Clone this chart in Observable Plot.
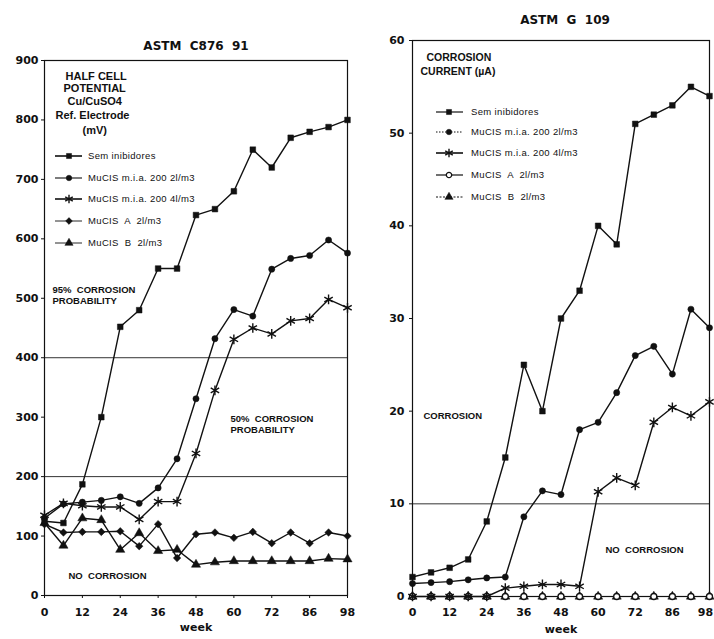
<!DOCTYPE html>
<html><head><meta charset="utf-8">
<script src="https://cdn.jsdelivr.net/npm/d3@7"></script>
<script src="https://cdn.jsdelivr.net/npm/@observablehq/plot@0.6"></script>
<style>
body{margin:0;background:#fff}
#wrap{position:relative;width:714px;height:639px;overflow:hidden;background:#fff}
#wrap svg{position:absolute;top:0}
</style></head><body><div id="wrap"></div>
<script>
// ---- data ----
const weekLabels = ["0","12","24","36","48","60","72","86","98"];
const seriesNames = ["Sem inibidores","MuCIS m.i.a. 200 2l/m3","MuCIS m.i.a. 200 4l/m3","MuCIS  A  2l/m3","MuCIS  B  2l/m3"];
const rightNames = ["Sem inibidores","MuCIS m.i.a. 200 2l/m3","MuCIS m.i.a. 200 4l/m3","MuCIS  A  2l/m3","MuCIS  B  2l/m3"];

// Half cell potential (mV), ASTM C876 91
const hcSem  = [125,122,187,300,452,480,550,550,640,650,680,750,720,770,780,788,800];
const hcMia2 = [130,154,157,160,166,155,181,230,331,432,481,470,549,567,572,598,576];
const hcMia4 = [135,155,151,149,149,128,158,158,239,345,431,450,440,462,466,498,484];
const hcA    = [120,106,107,107,108,83,120,63,103,106,97,107,88,106,88,106,100];
const hcB    = [122,84,130,127,77,105,75,77,52,56,58,58,58,58,58,62,61];
const hcThresholds = [200, 400];
const hcTicks = [0,100,200,300,400,500,600,700,800,900];

// Corrosion current (µA), ASTM G 109
const ccSem  = [2.1,2.6,3.1,4.0,8.1,15,25,20,30,33,40,38,51,52,53,55,54];
const ccMia2 = [1.4,1.5,1.6,1.8,2.0,2.1,8.6,11.4,11,18,18.8,22,26,27,24,31,29];
const ccMia4 = [0,0,0,0,0,0.9,1.1,1.3,1.3,1.1,11.3,12.8,12,18.8,20.4,19.5,21];
const ccA    = [0,0,0,0,0,0,0,0,0,0,0,0,0,0,0,0,0];
const ccB    = [0,0,0,0,0,0,0,0,0,0,0,0,0,0,0,0,0];
const ccThresholds = [10];
const ccTicks = [0,10,20,30,40,50,60];

// ---- helpers ----
const INK = "#111";
const rows = vals => vals.map((v, i) => ({i, v}));
const xTickPos = weekLabels.map((_, k) => 2 * k);
const nSteps = hcSem.length - 1;

const styles = {
  square:   {symbol: "square", r: 3.2, fill: INK, stroke: INK, strokeWidth: 0.5},
  circle:   {symbol: "circle", r: 3.1, fill: INK, stroke: INK, strokeWidth: 0.5},
  asterisk: {symbol: "asterisk", r: 4.6, fill: "none", stroke: INK, strokeWidth: 1.4},
  diamond:  {symbol: "diamond2", r: 3.4, fill: INK, stroke: INK, strokeWidth: 0.5},
  triangle: {symbol: "triangle", r: 3.4, fill: INK, stroke: INK, strokeWidth: 0.5},
  open:     {symbol: "circle", r: 3.0, fill: "#fff", stroke: INK, strokeWidth: 1.3}
};
const d3sym = {square: d3.symbolSquare, circle: d3.symbolCircle, asterisk: d3.symbolAsterisk,
  diamond: d3.symbolDiamond2, triangle: d3.symbolTriangle, open: d3.symbolCircle};

function seriesMarks(list) {
  return list.flatMap(s => [
    Plot.line(rows(s.values), {x: "i", y: "v", stroke: INK, strokeWidth: s.lw || 1.4}),
    Plot.dot(rows(s.values), {x: "i", y: "v", ...styles[s.style]})
  ]);
}
function note(text, dx, dy, o = {}) {
  return Plot.text([text], {text: d => d, frameAnchor: o.anchor || "top-left", dx, dy,
    textAnchor: o.textAnchor || "start", fontSize: o.fontSize || 9.5,
    fontFamily: o.fontFamily || "Liberation Sans", fontWeight: "bold", fill: INK,
    letterSpacing: o.ls});
}
function drawLegend(svg, cfg) {
  const g = d3.select(svg).append("g").attr("text-anchor", "start");
  cfg.items.forEach((it, k) => {
    const y = cfg.rowsY[k];
    g.append("line").attr("x1", cfg.x0).attr("x2", cfg.x1).attr("y1", y).attr("y2", y)
      .attr("stroke", INK).attr("stroke-width", it.lw || 1.3)
      .attr("stroke-dasharray", it.dash || null);
    const st = styles[it.style];
    g.append("path").attr("d", d3.symbol(d3sym[it.style], Math.PI * st.r * st.r * 0.8)())
      .attr("transform", `translate(${cfg.mx},${y})`)
      .attr("fill", st.fill).attr("stroke", st.stroke).attr("stroke-width", st.strokeWidth);
    g.append("text").attr("x", cfg.tx).attr("y", y).attr("dy", "0.32em")
      .attr("text-anchor", "start")
      .attr("font-family", "Liberation Sans").attr("font-size", 9.5).attr("font-weight", "normal")
      .attr("letter-spacing", 0.35).attr("fill", INK).style("white-space", "pre").text(it.name);
  });
}
const baseStyle = {fontFamily: "DejaVu Sans", fontSize: "11px", fontWeight: "bold", color: INK, background: "transparent", overflow: "visible"};

// ---- left chart ----
const left = Plot.plot({
  width: 357, height: 639,
  marginLeft: 44, marginRight: 10, marginTop: 60, marginBottom: 44,
  style: baseStyle,
  x: {domain: [0, nSteps]},
  y: {domain: [0, 900]},
  marks: [
    Plot.ruleY(hcThresholds, {stroke: "#333", strokeWidth: 1}),
    Plot.frame({stroke: INK, strokeWidth: 1.2}),
    Plot.axisY(hcTicks, {tickSize: 3, tickPadding: 3, label: null}),
    Plot.axisX(xTickPos, {tickSize: 3, tickPadding: 10, label: null, tickFormat: d => weekLabels[d / 2]}),
    ...seriesMarks([
      {values: hcA, style: "diamond"},
      {values: hcB, style: "triangle"},
      {values: hcMia4, style: "asterisk"},
      {values: hcMia2, style: "circle"},
      {values: hcSem, style: "square"}
    ]),
    note("ASTM\u00a0 C876\u00a0 91", 0, -19, {anchor: "top", textAnchor: "middle", fontSize: 12, fontFamily: "DejaVu Sans"}),
    note("week", 0, 35, {anchor: "bottom", textAnchor: "middle", fontSize: 11, fontFamily: "DejaVu Sans"}),
    note("HALF CELL", 21, 12, {fontSize: 11, ls: -0.4}),
    note("POTENTIAL", 19, 24, {fontSize: 11, ls: -0.4}),
    note("Cu/CuSO4", 23, 37, {fontSize: 11, ls: -0.4}),
    note("Ref. Electrode", 11, 51, {fontSize: 11, ls: -0.2}),
    note("(mV)", 38, 66, {fontSize: 11}),
    note("95%  CORROSION", 8, 226),
    note("PROBABILITY", 8, 237),
    note("50%  CORROSION", 186, 355),
    note("PROBABILITY", 186, 366),
    note("NO  CORROSION", 24, 512)
  ]
});
drawLegend(left, {
  x0: 55, x1: 82, mx: 69, tx: 88, rowsY: [156, 178, 199, 221, 243],
  items: [
    {name: seriesNames[0], style: "square", lw: 1.6},
    {name: seriesNames[1], style: "circle", lw: 1.1},
    {name: seriesNames[2], style: "asterisk", lw: 1.6},
    {name: seriesNames[3], style: "diamond", lw: 0.9},
    {name: seriesNames[4], style: "triangle", lw: 0.9}
  ]
});
left.style.left = "0px";

// ---- right chart ----
const lastTick = xTickPos[xTickPos.length - 1];
const right = Plot.plot({
  width: 357, height: 639,
  marginLeft: 55, marginRight: 5, marginTop: 40, marginBottom: 43,
  style: baseStyle,
  x: {domain: [0, nSteps]},
  y: {domain: [0, 60]},
  marks: [
    Plot.ruleY(ccThresholds, {stroke: "#333", strokeWidth: 1}),
    Plot.frame({stroke: INK, strokeWidth: 1.2}),
    Plot.axisY(ccTicks, {tickSize: 3, tickPadding: 5, label: null}),
    Plot.axisX(xTickPos, {tickSize: 3, tickPadding: 9, label: null,
      tickFormat: d => d === lastTick ? "" : weekLabels[d / 2]}),
    Plot.axisX([lastTick], {tickSize: 0, tickPadding: 12, dx: -4, label: null,
      tickFormat: d => weekLabels[d / 2]}),
    ...seriesMarks([
      {values: ccB, style: "triangle", lw: 1.2},
      {values: ccA, style: "open", lw: 1.2},
      {values: ccMia4, style: "asterisk"},
      {values: ccMia2, style: "circle"},
      {values: ccSem, style: "square"}
    ]),
    note("ASTM\u00a0 G\u00a0 109", 4, -25, {anchor: "top", textAnchor: "middle", fontSize: 12, fontFamily: "DejaVu Sans"}),
    note("week", 0, 36, {anchor: "bottom", textAnchor: "middle", fontSize: 11, fontFamily: "DejaVu Sans"}),
    note("CORROSION", 14, 13, {fontSize: 10.5, ls: -0.3}),
    note("CURRENT (µA)", 8, 27, {fontSize: 10.5, ls: -0.3}),
    note("CORROSION", 11, 372),
    note("NO  CORROSION", 193, 506)
  ]
});
drawLegend(right, {
  x0: 79, x1: 106, mx: 92, tx: 114, rowsY: [112, 132, 153, 175, 197],
  items: [
    {name: rightNames[0], style: "square", lw: 1.2},
    {name: rightNames[1], style: "circle", lw: 1, dash: "1.5,1.5"},
    {name: rightNames[2], style: "asterisk", lw: 1.6},
    {name: rightNames[3], style: "open", lw: 1.2},
    {name: rightNames[4], style: "triangle", lw: 1, dash: "2,1.5"}
  ]
});
right.style.left = "357px";

const wrap = document.getElementById("wrap");
wrap.appendChild(left);
wrap.appendChild(right);
</script></body></html>
